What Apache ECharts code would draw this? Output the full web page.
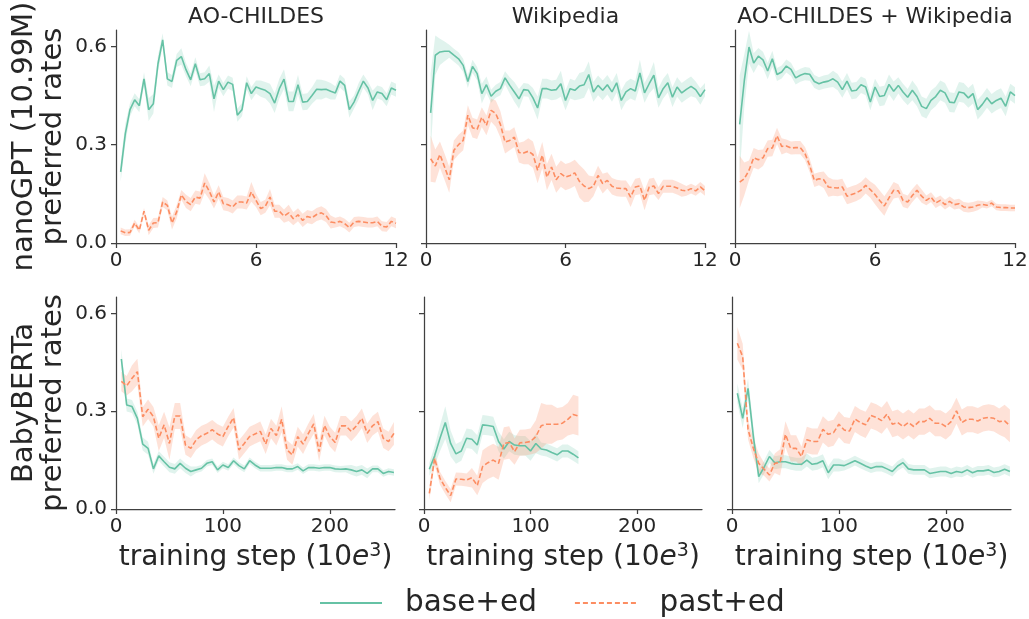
<!DOCTYPE html>
<html>
<head>
<meta charset="utf-8">
<script src="https://cdn.jsdelivr.net/npm/echarts@6/dist/echarts.min.js"></script>
<style>
html,body{margin:0;padding:0;background:#fff;}
#chart{width:1029px;height:619px;}
</style>
</head>
<body>
<div id="chart"></div>
<script>
// ---------- data ----------
const colTitles = ['AO-CHILDES', 'Wikipedia', 'AO-CHILDES + Wikipedia'];
const rowNames = ['nanoGPT (10.99M)\npreferred rates', 'BabyBERTa\npreferred rates'];
const seriesNames = ['base+ed', 'past+ed'];
const topTicks = [0, 6, 12];
const bottomTicks = [0, 100, 200];
const yTicks = [0, 0.3, 0.6];

const topSteps = [0.2,0.4,0.6,0.8,1.0,1.2,1.4,1.6,1.8,2.0,2.2,2.4,2.6,2.8,3.0,3.2,3.4,3.6,3.8,4.0,
  4.2,4.4,4.6,4.8,5.0,5.2,5.4,5.6,5.8,6.0,6.2,6.4,6.6,6.8,7.0,7.2,7.4,7.6,7.8,8.0,
  8.2,8.4,8.6,8.8,9.0,9.2,9.4,9.6,9.8,10.0,10.2,10.4,10.6,10.8,11.0,11.2,11.4,11.6,11.8,12.0];
const bottomSteps = [5,10,15,20,25,30,35,40,45,50,55,60,65,70,75,80,85,90,95,100,
  105,110,115,120,125,130,135,140,145,150,155,160,165,170,175,180,185,190,195,200,
  205,210,215,220,225,230,235,240,245,250,255,260];

// nanoGPT / AO-CHILDES
const gptChildesBase = [.217,.334,.407,.437,.419,.501,.407,.425,.547,.620, .501,.493,.557,.569,.529,.498,.547,.498,.501,.517,
  .44,.494,.468,.491,.484,.39,.407,.489,.456,.476, .471,.466,.456,.427,.471,.50,.432,.432,.483,.43,
  .432,.45,.469,.468,.469,.463,.458,.494,.481,.407, .43,.463,.494,.473,.435,.461,.456,.437,.473,.466];
const gptChildesBaseErr = [.03,.03,.02,.02,.02,.02,.035,.03,.025,.02, .02,.02,.02,.025,.02,.02,.02,.02,.02,.025,
  .04,.02,.02,.02,.02,.02,.02,.02,.02,.02, .025,.025,.03,.03,.03,.03,.03,.03,.03,.025,
  .025,.025,.03,.03,.025,.025,.02,.02,.02,.025, .02,.025,.02,.02,.03,.02,.02,.02,.02,.02];
const gptChildesPast = [.037,.031,.032,.061,.039,.097,.039,.061,.062,.125, .115,.061,.095,.147,.127,.117,.14,.137,.183,.158,
  .125,.156,.12,.117,.11,.125,.125,.122,.156,.13, .105,.112,.14,.097,.097,.082,.092,.074,.086,.069,
  .081,.077,.087,.092,.084,.064,.062,.066,.059,.047, .064,.066,.064,.062,.062,.066,.051,.049,.066,.06];
const gptChildesPastErr = [.01,.01,.01,.01,.01,.01,.015,.015,.015,.015, .015,.02,.02,.015,.02,.02,.02,.02,.03,.025,
  .02,.02,.02,.02,.02,.02,.02,.02,.03,.02, .02,.02,.025,.02,.02,.02,.025,.02,.02,.02,
  .02,.02,.02,.02,.02,.02,.015,.015,.015,.015, .015,.015,.015,.015,.015,.015,.015,.015,.015,.015];

// nanoGPT / Wikipedia
const gptWikiBase = [.397,.573,.583,.585,.585,.573,.562,.542,.493,.539, .517,.456,.483,.448,.463,.471,.504,.481,.461,.44,
  .468,.466,.443,.412,.471,.471,.466,.468,.486,.435, .471,.466,.479,.483,.514,.461,.481,.466,.483,.461,
  .489,.435,.461,.471,.464,.519,.458,.486,.512,.443, .471,.489,.445,.476,.458,.469,.478,.468,.447,.468];
const gptWikiBaseErr = [.12,.06,.04,.03,.02,.02,.02,.02,.02,.02, .02,.03,.025,.02,.02,.02,.02,.025,.03,.03,
  .02,.02,.03,.035,.03,.03,.03,.03,.04,.03, .03,.03,.04,.04,.04,.03,.03,.03,.03,.03,
  .03,.03,.03,.03,.03,.04,.03,.03,.04,.03, .03,.03,.03,.03,.03,.03,.03,.025,.025,.02];
const gptWikiPast = [.257,.235,.27,.232,.193,.283,.30,.313,.39,.352, .347,.384,.359,.405,.395,.362,.308,.313,.323,.276,
  .275,.28,.27,.222,.268,.201,.232,.193,.212,.201, .206,.214,.188,.174,.166,.173,.206,.181,.191,.173,
  .168,.166,.166,.14,.171,.174,.13,.171,.174,.151, .173,.173,.173,.168,.161,.159,.166,.159,.171,.159];
const gptWikiPastErr = [.07,.05,.04,.04,.04,.03,.03,.03,.03,.03, .03,.03,.03,.035,.04,.04,.035,.03,.03,.03,
  .035,.04,.04,.04,.04,.04,.04,.04,.04,.04, .04,.04,.05,.05,.04,.03,.03,.03,.025,.025,
  .025,.025,.025,.03,.025,.025,.03,.025,.025,.02, .02,.02,.02,.02,.02,.015,.015,.015,.015,.015];

// nanoGPT / AO-CHILDES + Wikipedia
const gptBothBase = [.362,.496,.598,.549,.57,.559,.525,.562,.514,.522, .54,.53,.504,.512,.517,.515,.493,.486,.491,.494,
  .501,.491,.468,.494,.464,.466,.483,.476,.43,.476, .447,.45,.484,.463,.481,.461,.445,.466,.447,.417,
  .41,.435,.447,.466,.458,.43,.428,.461,.458,.443, .456,.407,.423,.443,.425,.435,.442,.417,.461,.45];
const gptBothBaseErr = [.15,.08,.05,.03,.025,.025,.025,.025,.02,.02, .02,.02,.02,.02,.02,.02,.02,.02,.02,.02,
  .025,.025,.025,.025,.025,.025,.025,.025,.025,.025, .03,.03,.03,.03,.025,.025,.025,.03,.03,.03,
  .03,.03,.03,.03,.03,.03,.03,.03,.03,.03, .03,.03,.03,.03,.03,.03,.03,.03,.025,.025];
const gptBothPast = [.186,.196,.222,.26,.254,.26,.288,.29,.327,.295, .296,.29,.291,.291,.273,.237,.191,.196,.193,.171,
  .169,.168,.171,.143,.148,.153,.161,.176,.163,.148, .13,.113,.138,.161,.159,.13,.125,.145,.161,.143,
  .13,.14,.122,.13,.117,.127,.117,.12,.11,.108, .11,.115,.118,.115,.122,.11,.108,.108,.107,.107];
const gptBothPastErr = [.08,.05,.03,.03,.03,.025,.025,.025,.025,.025, .02,.02,.02,.02,.02,.02,.02,.02,.025,.03,
  .025,.025,.025,.025,.025,.025,.025,.025,.025,.03, .03,.03,.025,.025,.02,.02,.02,.02,.02,.02,
  .015,.015,.015,.015,.015,.015,.015,.015,.015,.015, .015,.015,.01,.01,.01,.01,.01,.01,.01,.01];

// BabyBERTa / AO-CHILDES
const bertChildesBase = [.46,.319,.314,.278,.199,.186,.123,.163,.145,.128, .123,.14,.125,.115,.12,.125,.14,.145,.12,.135,
  .127,.148,.133,.123,.148,.135,.125,.125,.125,.127, .127,.123,.123,.13,.117,.127,.127,.125,.127,.127,
  .123,.122,.123,.12,.115,.12,.109,.123,.123,.109, .115,.112];
const bertChildesBaseErr = [.03,.02,.02,.02,.02,.02,.015,.015,.015,.015, .015,.015,.015,.015,.01,.01,.01,.01,.01,.01,
  .01,.01,.01,.01,.01,.01,.01,.01,.01,.01, .01,.01,.01,.01,.01,.01,.01,.01,.01,.01,
  .01,.01,.01,.015,.015,.015,.015,.01,.01,.01, .01,.01];
const bertChildesPast = [.391,.378,.401,.421,.283,.306,.283,.217,.258,.201, .285,.285,.196,.186,.212,.225,.232,.243,.23,.222,
  .253,.28,.181,.201,.222,.23,.238,.199,.247,.225, .275,.181,.166,.222,.199,.232,.261,.176,.256,.222,
  .204,.255,.255,.238,.255,.278,.232,.255,.268,.217, .207,.232];
const bertChildesPastErr = [.03,.03,.04,.04,.03,.03,.03,.04,.04,.05, .04,.04,.03,.03,.03,.03,.03,.03,.03,.03,
  .03,.03,.03,.03,.03,.03,.03,.03,.03,.03, .04,.03,.03,.03,.03,.03,.03,.03,.03,.03,
  .03,.03,.03,.03,.03,.03,.03,.03,.03,.03, .03,.035];

// BabyBERTa / Wikipedia
const bertWikiBase = [.122,.163,.217,.265,.201,.169,.178,.217,.214,.196, .258,.256,.253,.207,.184,.207,.196,.194,.194,.178,
  .201,.184,.181,.173,.166,.178,.178,.168,.157];
const bertWikiBaseErr = [.02,.03,.04,.05,.04,.03,.03,.03,.03,.03, .03,.03,.03,.03,.03,.03,.03,.03,.03,.03,
  .03,.02,.02,.02,.02,.02,.02,.02,.02];
const bertWikiPast = [.048,.155,.094,.066,.041,.092,.091,.089,.096,.072, .13,.142,.15,.14,.201,.204,.176,.203,.204,.207,
  .222,.255,.26,.26,.26,.263,.275,.29,.285];
const bertWikiPastErr = [.02,.02,.02,.02,.02,.02,.02,.02,.03,.03, .05,.05,.05,.05,.05,.05,.04,.04,.04,.04,
  .05,.07,.06,.06,.05,.05,.05,.06,.06];

// BabyBERTa / AO-CHILDES + Wikipedia
const bertBothBase = [.355,.278,.37,.222,.099,.128,.161,.142,.145,.145, .14,.137,.137,.15,.137,.14,.148,.111,.135,.135,
  .133,.14,.148,.14,.132,.125,.13,.13,.123,.115, .132,.142,.123,.12,.12,.12,.109,.112,.115,.115,
  .109,.115,.112,.12,.111,.117,.117,.12,.112,.115, .122,.115];
const bertBothBaseErr = [.03,.03,.03,.03,.02,.02,.02,.02,.02,.02, .02,.02,.02,.02,.02,.02,.02,.02,.02,.02,
  .015,.015,.015,.015,.015,.015,.015,.015,.015,.015, .015,.015,.015,.015,.015,.015,.015,.015,.015,.015,
  .015,.015,.015,.015,.015,.015,.015,.015,.015,.015, .015,.015];
const bertBothPast = [.508,.467,.244,.186,.14,.122,.104,.14,.143,.229, .186,.186,.161,.212,.207,.207,.244,.229,.234,.26,
  .242,.239,.276,.265,.258,.287,.281,.271,.291,.26, .265,.253,.265,.253,.268,.268,.278,.263,.263,.253,
  .268,.301,.265,.275,.275,.27,.278,.281,.278,.268, .27,.255];
const bertBothPastErr = [.05,.04,.03,.03,.03,.02,.02,.03,.04,.04, .04,.04,.03,.04,.04,.04,.04,.04,.04,.04,
  .04,.04,.04,.04,.04,.04,.04,.04,.04,.04, .04,.04,.04,.04,.04,.04,.04,.04,.04,.04,
  .04,.04,.04,.04,.04,.04,.04,.04,.04,.04, .05,.05];

// ---------- layout / style ----------
const FONT = 'DejaVu Sans';
const TXT = '#262626';
const AX = '#404040';
const GREEN = '#66c2a5', ORANGE = '#fc8d62';
const GREEN_BAND = 'rgba(102,194,165,0.2)', ORANGE_BAND = 'rgba(252,141,98,0.25)';

const gridBoxes = [
  {left:116, top:30, width:280, height:213},
  {left:426, top:30, width:279, height:213},
  {left:735, top:30, width:280, height:213},
  {left:116, top:297, width:279, height:212},
  {left:424, top:297, width:278, height:212},
  {left:732, top:297, width:279, height:212}
];

const panels = [
  {xs: topSteps, base: gptChildesBase, baseErr: gptChildesBaseErr, past: gptChildesPast, pastErr: gptChildesPastErr},
  {xs: topSteps, base: gptWikiBase, baseErr: gptWikiBaseErr, past: gptWikiPast, pastErr: gptWikiPastErr},
  {xs: topSteps, base: gptBothBase, baseErr: gptBothBaseErr, past: gptBothPast, pastErr: gptBothPastErr},
  {xs: bottomSteps, base: bertChildesBase, baseErr: bertChildesBaseErr, past: bertChildesPast, pastErr: bertChildesPastErr},
  {xs: bottomSteps, base: bertWikiBase, baseErr: bertWikiBaseErr, past: bertWikiPast, pastErr: bertWikiPastErr},
  {xs: bottomSteps, base: bertBothBase, baseErr: bertBothBaseErr, past: bertBothPast, pastErr: bertBothPastErr}
];

const grid = gridBoxes.map(b => Object.assign({containLabel:false, outerBoundsMode:'none'}, b));
const xAxis = [], yAxis = [], series = [];

function bandSeries(i, xs, vals, err, color) {
  return {
    type:'custom', name:'band', xAxisIndex:i, yAxisIndex:i, silent:true, z:1, animation:false, clip:true,
    encode:{x:0, y:[1,2]},
    data: xs.map((x, k) => [x, vals[k] - err[k], vals[k] + err[k]]),
    renderItem: function (params, api) {
      if (params.dataIndexInside !== 0) return null;
      const n = params.dataInsideLength;
      const upper = [], lower = [];
      for (let k = 0; k < n; k++) {
        const x = api.value(0, k);
        upper.push(api.coord([x, api.value(2, k)]));
        lower.push(api.coord([x, api.value(1, k)]));
      }
      return {type:'polygon', shape:{points: upper.concat(lower.reverse())}, style:{fill:color}, silent:true};
    }
  };
}

gridBoxes.forEach((b, i) => {
  const top = i < 3;
  const ticks = top ? topTicks : bottomTicks;
  xAxis.push({
    type:'value', gridIndex:i, min:0, max: top ? 12 : 261,
    axisLine:{show:true, onZero:false, lineStyle:{color:AX, width:1.25}},
    axisTick:{show:true, length:5, customValues:ticks, lineStyle:{color:AX, width:1.25}},
    axisLabel:{show:true, customValues:ticks, fontSize:20, fontFamily:FONT, color:TXT, margin:8},
    splitLine:{show:false},
    name: top ? '' : '{a|training step (10}{i|e}{s|3}{a|)}',
    nameLocation:'middle', nameGap:33,
    nameTextStyle:{fontFamily:FONT, color:TXT, fontSize:28,
      rich:{a:{fontSize:28, fontFamily:FONT, color:TXT},
            i:{fontSize:28, fontFamily:FONT, color:TXT, fontStyle:'italic'},
            s:{fontSize:19, fontFamily:FONT, color:TXT, padding:[0,0,13,0]}}}
  });
  const leftCol = (i % 3) === 0;
  yAxis.push({
    type:'value', gridIndex:i, min:0, max:0.65,
    axisLine:{show:true, onZero:false, lineStyle:{color:AX, width:1.25}},
    axisTick:{show:true, length:5, customValues:yTicks, lineStyle:{color:AX, width:1.25}},
    axisLabel:{show:leftCol, customValues:yTicks, fontSize:20, fontFamily:FONT, color:TXT, margin:9,
      formatter: v => Number(v).toFixed(1)},
    splitLine:{show:false},
    name: leftCol ? rowNames[top ? 0 : 1] : '',
    nameLocation:'middle', nameGap:48, nameRotate:90,
    nameTextStyle:{fontFamily:FONT, color:TXT, fontSize:29, lineHeight:29}
  });

  const p = panels[i];
  const xs = p.xs.slice(0, p.base.length);
  series.push(bandSeries(i, xs, p.base, p.baseErr, GREEN_BAND));
  series.push(bandSeries(i, xs, p.past, p.pastErr, ORANGE_BAND));
});

gridBoxes.forEach((b, i) => {
  const p = panels[i];
  const xs = p.xs.slice(0, p.base.length);
  series.push({
    type:'line', name:seriesNames[0], xAxisIndex:i, yAxisIndex:i, symbol:'none', z:3, animation:false,
    lineStyle:{color:GREEN, width:1.6}, itemStyle:{color:GREEN},
    data: xs.map((x, k) => [x, p.base[k]])
  });
  series.push({
    type:'line', name:seriesNames[1], xAxisIndex:i, yAxisIndex:i, symbol:'none', z:3, animation:false,
    lineStyle:{color:ORANGE, width:1.6, type:[5,2.5]}, itemStyle:{color:ORANGE},
    data: xs.map((x, k) => [x, p.past[k]])
  });
});

const graphic = colTitles.map((t, c) => {
  const b = gridBoxes[c];
  return {type:'text', x: b.left + b.width / 2, y: 17,
    style:{text:t, fill:TXT, font:'22px "DejaVu Sans"', textAlign:'center', textVerticalAlign:'middle'}};
});

const solidIcon = 'path://M0,0H62V2H0Z';
const dashIcon = 'path://M0,0H5V2H0Z M8,0H13V2H8Z M16,0H21V2H16Z M24,0H29V2H24Z M32,0H37V2H32Z M40,0H45V2H40Z M48,0H53V2H48Z M56,0H61V2H56Z';

const chart = echarts.init(document.getElementById('chart'), null, {renderer:'canvas'});
chart.setOption({
  animation:false,
  backgroundColor:'#ffffff',
  grid, xAxis, yAxis, series, graphic,
  legend:{
    data: [{name:seriesNames[0], icon:solidIcon}, {name:seriesNames[1], icon:dashIcon}],
    left:320, top:588, padding:0, itemWidth:62, itemHeight:2, itemGap:38,
    textStyle:{fontFamily:FONT, fontSize:29.5, color:TXT, padding:[0,0,0,18]},
    selectedMode:false
  }
});
</script>
</body>
</html>
